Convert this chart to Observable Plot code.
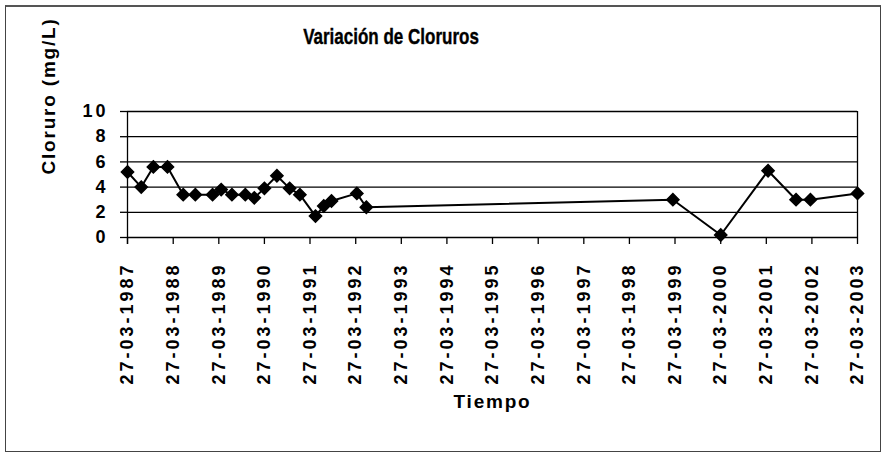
<!DOCTYPE html>
<html>
<head>
<meta charset="utf-8">
<script src="https://cdn.jsdelivr.net/npm/d3@7"></script>
<script src="https://cdn.jsdelivr.net/npm/@observablehq/plot@0.6"></script>
<style>
  html, body { margin: 0; padding: 0; background: #fff; }
  #wrap { position: relative; width: 886px; height: 454px; overflow: hidden; background: #fff; }
  #border { position: absolute; left: 5px; top: 5px; width: 876px; height: 447px; box-sizing: border-box;
            border: 1.5px solid #444; border-top: 2px solid #555; }
  #title { position: absolute; left: 0; top: 28px; width: 782px; text-align: center;
           font: bold 17px "Liberation Sans", Arial, sans-serif; line-height: 17px; color: #000;
           transform: scaleY(1.35); -webkit-text-stroke: 0.3px #000; }
  #chart { position: absolute; left: 0; top: 70px; }
  #chart svg text { letter-spacing: 3px; }
  #chart svg g.axlab text { letter-spacing: 1.8px; }
</style>
</head>
<body>
<div id="wrap">
  <div id="border"></div>
  <div id="title">Variación de Cloruros</div>
  <div id="chart"></div>
</div>
<script>
// X tick labels (dates)
const xLabels = ["27-03-1987","27-03-1988","27-03-1989","27-03-1990","27-03-1991","27-03-1992",
  "27-03-1993","27-03-1994","27-03-1995","27-03-1996","27-03-1997","27-03-1998","27-03-1999",
  "27-03-2000","27-03-2001","27-03-2002","27-03-2003"];
// Y ticks
const yTicks = [0, 2, 4, 6, 8, 10];
// Sample dates
const dates = ["1987-03-27","1987-07-15","1987-10-20","1988-02-10","1988-06-15","1988-09-20",
  "1989-02-05","1989-04-15","1989-07-10","1989-10-25","1990-01-05","1990-03-27","1990-07-05",
  "1990-10-15","1991-01-05","1991-05-10","1991-07-15","1991-09-15","1992-04-05","1992-06-20",
  "1999-03-10","2000-03-27","2001-04-10","2001-11-20","2002-03-15","2003-03-27"];
// Chloride values (mg/L)
const values = [5.2, 4.0, 5.6, 5.6, 3.4, 3.4, 3.4, 3.8, 3.4, 3.4, 3.15, 3.9, 4.9, 3.9, 3.4,
  1.7, 2.5, 2.9, 3.5, 2.4, 3.0, 0.2, 5.3, 3.0, 3.0, 3.5];

const parseISO = d3.utcParse("%Y-%m-%d");
const parseLbl = d3.utcParse("%d-%m-%Y");
const fmt = d3.utcFormat("%d-%m-%Y");
const xTicks = xLabels.map(parseLbl);
const data = dates.map((d, i) => ({date: parseISO(d), value: values[i]}));

const chart = Plot.plot({
  width: 886,
  height: 384,
  marginTop: 41,
  marginBottom: 217,
  marginLeft: 127,
  marginRight: 29,
  style: {fontFamily: "'Liberation Sans', Arial, sans-serif", color: "black", background: "transparent", overflow: "visible"},
  x: {type: "utc", domain: [xTicks[0], xTicks[xTicks.length - 1]]},
  y: {domain: [0, 10]},
  marks: [
    Plot.ruleY(yTicks, {stroke: "black", strokeWidth: 1.3}),
    Plot.ruleX([xTicks[0]], {stroke: "black", strokeWidth: 1.3, insetBottom: -7}),
    Plot.ruleX([xTicks[xTicks.length - 1]], {stroke: "black", strokeWidth: 1.3}),
    Plot.axisX({ticks: xTicks, tickFormat: fmt, tickRotate: -90, tickSize: 7, tickPadding: 18,
      fontSize: 18, fontWeight: "bold", label: null, strokeWidth: 1.3}),
    Plot.axisY({ticks: yTicks, tickSize: 7, tickPadding: 12, fontSize: 18, fontWeight: "bold", label: null, strokeWidth: 1.3}),
    Plot.line(data, {x: "date", y: "value", stroke: "black", strokeWidth: 2}),
    Plot.dot(data, {x: "date", y: "value", symbol: "diamond2", r: 5.5, fill: "black", stroke: "black"}),
    Plot.text(["Cloruro (mg/L)"], {text: d => d, frameAnchor: "left", dx: -79, rotate: -90,
      fontSize: 19, fontWeight: "bold", className: "axlab"}),
    Plot.text(["Tiempo"], {text: d => d, frameAnchor: "bottom", dy: 170, fontSize: 19, fontWeight: "bold", className: "axlab"})
  ]
});
document.getElementById("chart").appendChild(chart);
</script>
</body>
</html>
